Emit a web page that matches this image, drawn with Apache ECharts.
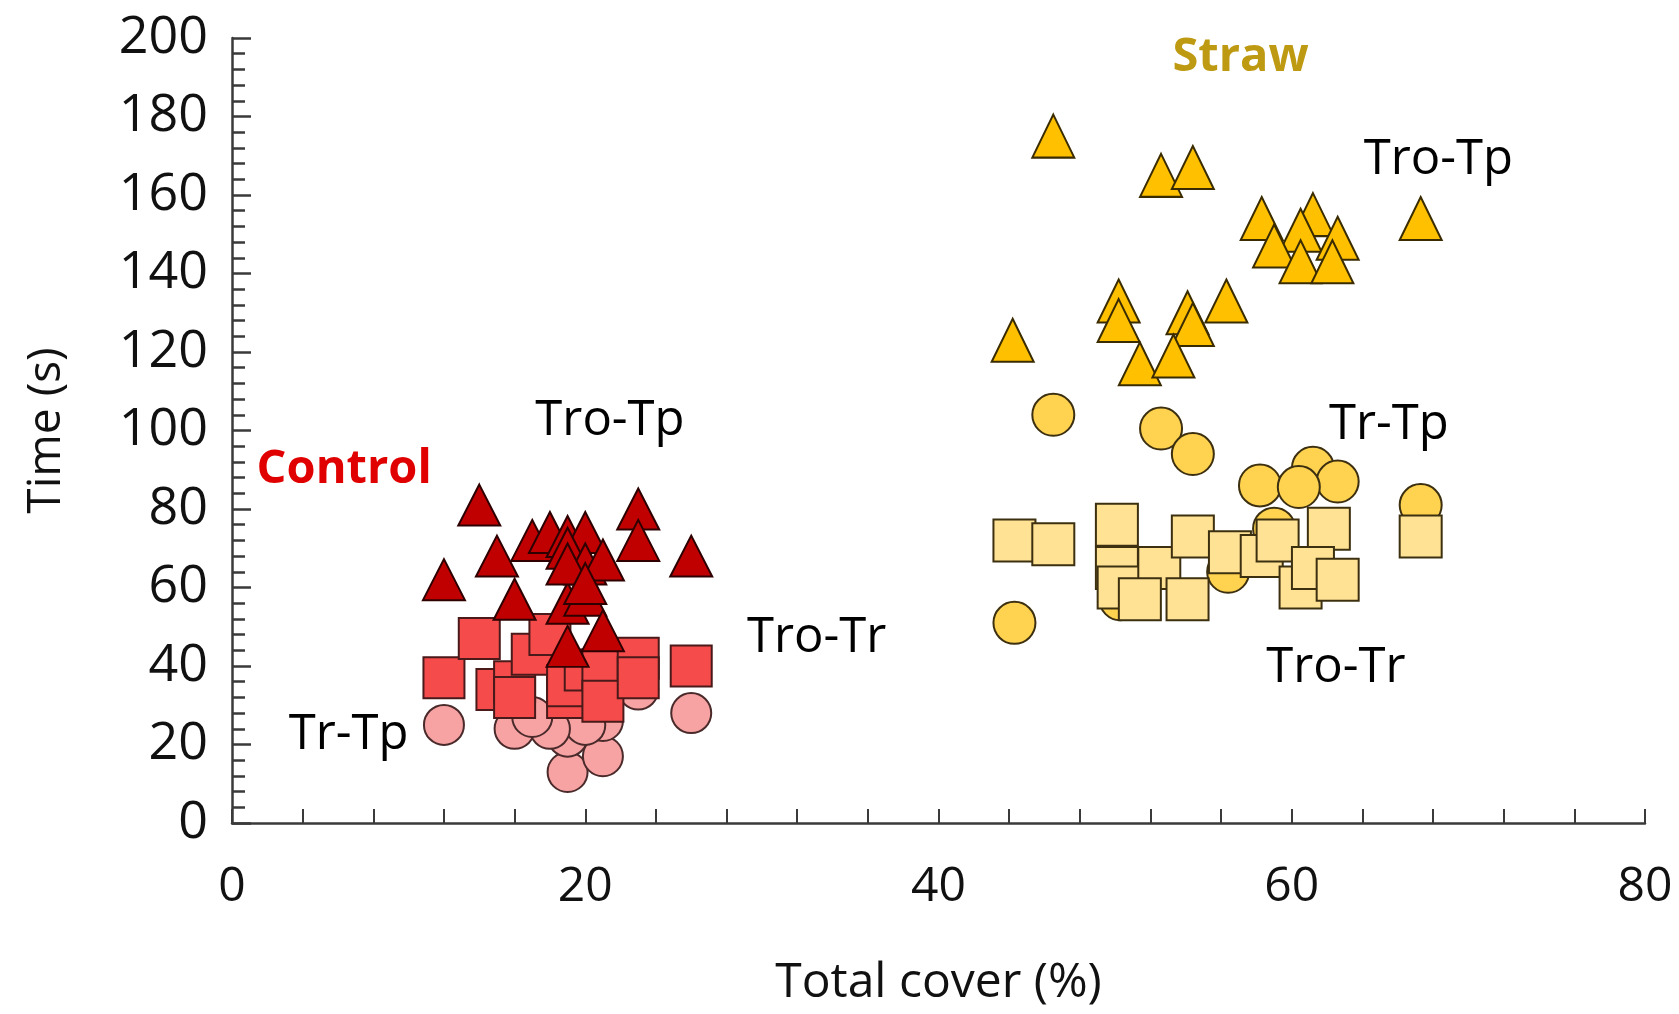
<!DOCTYPE html>
<html>
<head>
<meta charset="utf-8">
<script src="https://cdn.jsdelivr.net/npm/echarts@6/dist/echarts.min.js"></script>
<style>html,body{margin:0;padding:0;background:#fff;}#c{width:1679px;height:1014px;}</style>
</head>
<body>
<div id="c"></div>
<script>
// ---- Data (Total cover %, Time s) ----
var ctrlTroTp = [[12,62],[14,81],[15,68],[16,57],[17,72],[18,74],[19,73],[20,74],[19,70],[20,66],[21,67],[19,56],[20,58],[21,49],[19,45],[23,80],[23,72],[26,68],[19,66],[20,61]];
var ctrlTroTr = [[12,37],[14,47],[15,34],[16,36],[16,32],[17,43],[18,48],[19,32],[19,35],[20,39],[21,39],[21,31],[23,42],[23,37],[26,40]];
var ctrlTrTp  = [[12,25],[16,24],[26,28],[19,13],[21,17],[19,22],[21,26],[20,25],[23,34],[18,24],[17,27]];
var strawTroTp = [[46.5,175],[52.6,165],[54.4,167],[58.3,154],[61.2,155],[60.5,151],[62.6,149],[59,147],[60.5,143],[62.3,143],[67.3,154],[50.2,133],[50.2,128],[54.1,130],[54.4,127],[56.3,133],[44.2,123],[51.4,117],[53.3,119]];
var strawTrTp  = [[46.5,104],[52.6,100.5],[54.4,94],[58.2,86],[61.2,90.5],[62.6,87],[60.4,85.6],[67.3,81],[44.3,51],[59,75],[56.4,64],[50.3,57]];
var strawTroTr = [[44.3,72],[46.5,71],[50.1,76],[50.1,65],[50.2,60],[52.5,65],[51.4,57],[54.1,57],[54.4,73],[56.5,69],[58.3,68],[59.2,72],[62.1,75],[60.5,60],[61.2,65],[62.6,62],[67.3,73]];
// annotation labels [x, y, text]
var groupLabels = [[6.35,90,'Control'],[57.1,195,'Straw']];
var pairLabels = [[21.4,102.3,'Tro-Tp'],[33.1,47,'Tro-Tr'],[6.6,22.5,'Tr-Tp'],[68.3,168.8,'Tro-Tp'],[65.5,101.5,'Tr-Tp'],[62.5,39.6,'Tro-Tr']];
var xTicks = {min:0, max:80, interval:20};
var yTicks = {min:0, max:200, interval:20};

var FONT = '"Open Sans", sans-serif';
var chart = echarts.init(document.getElementById('c'), null, {renderer:'canvas'});

function sc(name, data, symbol, size, color, border, z) {
  return {
    name: name, type: 'scatter', data: data, symbol: symbol, symbolSize: size, z: z,
    itemStyle: {color: color, borderColor: border, borderWidth: 2, opacity: 1},
    emphasis: {disabled: true}, silent: true
  };
}

var axisLineStyle = {color:'#3a3a3a', width:2.5};
chart.setOption({
  animation: false,
  backgroundColor: '#fff',
  grid: {left:232, right:34, top:38, bottom:191, containLabel:false},
  xAxis: {
    type:'value', min:xTicks.min, max:xTicks.max, interval:xTicks.interval,
    name:'Total cover (%)', nameLocation:'middle', nameGap:136,
    nameTextStyle:{fontFamily:FONT, fontSize:48, color:'#111'},
    axisLine:{show:true, onZero:false, lineStyle:axisLineStyle},
    axisTick:{show:true, inside:true, length:14, lineStyle:{color:'#3a3a3a', width:2}},
    minorTick:{show:true, splitNumber:5, length:14, lineStyle:{color:'#3a3a3a', width:2}},
    axisLabel:{fontFamily:FONT, fontSize:48, color:'#111', margin:40},
    splitLine:{show:false}
  },
  yAxis: {
    type:'value', min:yTicks.min, max:yTicks.max, interval:yTicks.interval,
    name:'Time (s)', nameLocation:'middle', nameGap:162, nameRotate:90,
    nameTextStyle:{fontFamily:FONT, fontSize:46, color:'#111'},
    axisLine:{show:true, onZero:false, lineStyle:axisLineStyle},
    axisTick:{show:true, inside:true, length:19, lineStyle:{color:'#3a3a3a', width:2.5}},
    minorTick:{show:true, splitNumber:5, length:13, lineStyle:{color:'#3a3a3a', width:2.5}},
    axisLabel:{fontFamily:FONT, fontSize:52, color:'#111', margin:24},
    splitLine:{show:false}
  },
  series: [
    sc('Control Tr-Tp', ctrlTrTp, 'circle', 40, '#F7A3A3', '#4a2a2a', 2),
    sc('Control Tro-Tr', ctrlTroTr, 'rect', 41, '#F54B4B', '#4a1a1a', 3),
    sc('Control Tro-Tp', ctrlTroTp, 'triangle', [42,41], '#C00000', '#2e0000', 4),
    sc('Straw Tr-Tp', strawTrTp, 'circle', 42, '#FFD24F', '#3d3010', 2),
    sc('Straw Tro-Tr', strawTroTr, 'rect', 42, '#FFE294', '#3d3010', 3),
    sc('Straw Tro-Tp', strawTroTp, 'triangle', [42,43], '#FFC000', '#3a2c00', 4),
    {
      type:'scatter', symbolSize:0, silent:true, z:10,
      itemStyle:{color:'#fff', opacity:1},
      data: groupLabels.map(function(d){return {value:[d[0],d[1]], name:d[2],
        label:{color: d[2]==='Control' ? '#E00000' : '#BE9A12'}};}),
      label:{show:true, position:'inside', formatter:function(p){return p.name;},
        fontFamily:FONT, fontWeight:'bold', fontSize:47, textBorderWidth:0, textShadowBlur:0, opacity:1}
    },
    {
      type:'scatter', symbolSize:0, silent:true, z:10,
      itemStyle:{color:'#fff', opacity:1},
      data: pairLabels.map(function(d){return {value:[d[0],d[1]], name:d[2]};}),
      label:{show:true, position:'inside', formatter:function(p){return p.name;},
        fontFamily:FONT, fontSize:49, color:'#000', textBorderWidth:0, textShadowBlur:0, opacity:1}
    }
  ]
});
</script>
</body>
</html>
